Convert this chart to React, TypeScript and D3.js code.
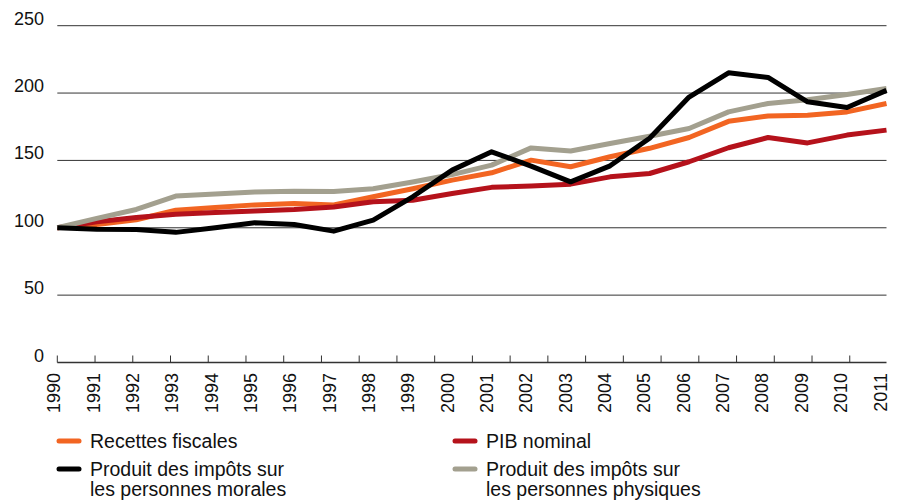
import React from "react";
import * as d3 from "d3";

const years = [1990, 1991, 1992, 1993, 1994, 1995, 1996, 1997, 1998, 1999, 2000, 2001, 2002, 2003, 2004, 2005, 2006, 2007, 2008, 2009, 2010, 2011];
const recettes = [100, 102.5, 106, 113, 115, 117, 118, 117, 123, 129, 135.4, 140.8, 150.2, 145.3, 152.7, 159, 167, 179, 183, 183.6, 186, 192.3];
const pib = [100, 104.5, 107.7, 110, 111.4, 112.4, 113.5, 115.5, 119.3, 120.5, 125.5, 130, 131, 132.4, 137.8, 140.3, 149, 159.4, 167, 163, 168.8, 172.5];
const morales = [100, 99, 98.7, 96.6, 100, 103.7, 102.5, 97.5, 105.7, 123, 142.8, 156.4, 145.8, 134.1, 146, 166.5, 197, 215, 211.6, 193.5, 189.3, 202];
const physiques = [100, 107, 113.6, 123.5, 125, 126.5, 127.2, 127, 129, 134, 139.5, 146.5, 159.3, 157, 162.5, 168, 173.7, 186, 192.3, 195, 199, 203.4];
const yTicks = [0, 50, 100, 150, 200, 250];

const series = [
  { name: "Recettes fiscales", values: recettes, color: "#f26522" },
  { name: "PIB nominal", values: pib, color: "#b5121b" },
  { name: "Produit des impôts sur les personnes physiques", values: physiques, color: "#a3a08f" },
  { name: "Produit des impôts sur les personnes morales", values: morales, color: "#000000" },
];

const legendItems = [
  { lines: ["Recettes fiscales"], color: "#f26522", col: 0, row: 0 },
  { lines: ["PIB nominal"], color: "#b5121b", col: 1, row: 0 },
  { lines: ["Produit des impôts sur", "les personnes morales"], color: "#000000", col: 0, row: 1 },
  { lines: ["Produit des impôts sur", "les personnes physiques"], color: "#a3a08f", col: 1, row: 1 },
];

const W = 900;
const H = 502;
const font = "'Liberation Sans', Arial, sans-serif";

export default function App() {
  const x0 = 57.3;
  const x1 = 886.5;
  const x = d3.scaleLinear().domain([1990, 2011]).range([x0, x1]);
  // tick marks split the axis into 22 equal parts
  const xt = d3.scaleLinear().domain([0, 22]).range([x0, x1 + 1]);
  const y = d3.scaleLinear().domain([0, 250]).range([362.5, 25.7]);

  const line = d3
    .line<number>()
    .x((_, i) => x(years[i]))
    .y((d) => y(d));

  return (
    <svg
      width={W}
      height={H}
      style={{ position: "absolute", left: 0, top: 0, background: "#fff" }}
      fontFamily={font}
    >
      {/* gridlines */}
      {yTicks.filter((t) => t > 0).map((t) => (
        <line key={t} x1={x0} x2={x1} y1={y(t)} y2={y(t)} stroke="#333" strokeWidth={1} />
      ))}
      {yTicks.map((t) => (
        <text key={t} x={44} y={y(t) - 1} textAnchor="end" fontSize={18} fill="#111">
          {t}
        </text>
      ))}

      {/* x axis */}
      <line x1={x0} x2={x1} y1={y(0)} y2={y(0)} stroke="#333" strokeWidth={1.5} />
      {d3.range(22).map((i) => (
        <line key={i} x1={xt(i)} x2={xt(i)} y1={y(0)} y2={y(0) - 7} stroke="#333" strokeWidth={1} />
      ))}
      {years.map((yr, i) => (
        <text
          key={yr}
          transform={`translate(${x(yr) - 3 - (i / 21) * 3},373) rotate(-90)`}
          textAnchor="end"
          dominantBaseline="central"
          fontSize={18}
          fill="#111"
        >
          {yr}
        </text>
      ))}

      {/* series */}
      {series.map((s) => (
        <path
          key={s.name}
          d={line(s.values) ?? ""}
          fill="none"
          stroke={s.color}
          strokeWidth={5}
          strokeLinejoin="round"
        />
      ))}

      {/* legend */}
      {legendItems.map((it) => {
        const lx = it.col === 0 ? 57 : 453;
        const ly = it.row === 0 ? 441 : 469;
        return (
          <g key={it.lines.join(" ")}>
            <line x1={lx + 2} x2={lx + 22} y1={ly} y2={ly} stroke={it.color} strokeWidth={5} strokeLinecap="round" />
            <text x={lx + 33} y={ly} fontSize={19.5} fill="#111" dominantBaseline="central">
              {it.lines.map((t, k) => (
                <tspan key={k} x={lx + 33} dy={k === 0 ? 0 : 20}>
                  {t}
                </tspan>
              ))}
            </text>
          </g>
        );
      })}
    </svg>
  );
}
